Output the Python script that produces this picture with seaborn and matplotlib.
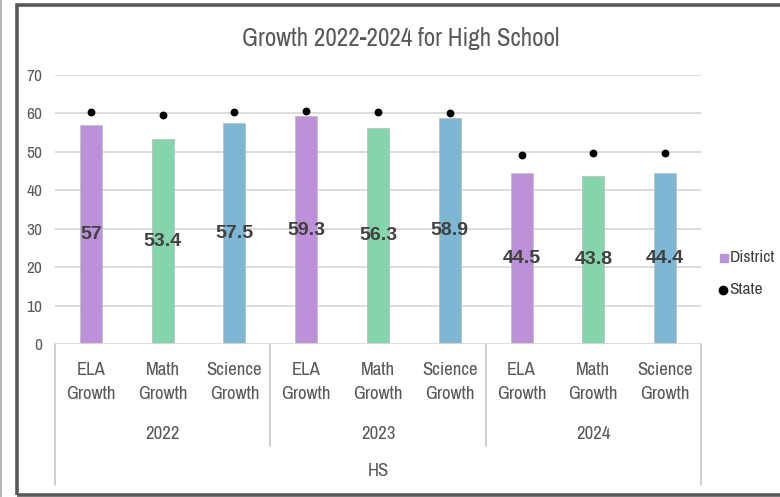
import matplotlib
matplotlib.use("Agg")
import matplotlib.pyplot as plt
import matplotlib.font_manager as fm
from matplotlib.lines import Line2D
from matplotlib.patches import Rectangle
import seaborn as sns
import pandas as pd

# ---- data ----
years = ["2022", "2022", "2022", "2023", "2023", "2023", "2024", "2024", "2024"]
subjects = ["ELA\nGrowth", "Math\nGrowth", "Science\nGrowth"] * 3
district = [57, 53.4, 57.5, 59.3, 56.3, 58.9, 44.5, 43.8, 44.4]
state = [60.5, 59.7, 60.4, 60.6, 60.5, 60.2, 49.3, 49.6, 49.6]
level = "HS"
title = "Growth 2022-2024 for High School"

bar_colors = ["#BD91DA", "#84D5AB", "#7EB7D4"] * 3
keys = [f"{y} {s}" for y, s in zip(years, subjects)]
df = pd.DataFrame({"key": keys, "year": years, "subject": subjects,
                   "District": district, "State": state})

sns.set_theme(style="white")
names = {f.name for f in fm.fontManager.ttflist}
candidates = ["Arial Narrow", "Liberation Sans Narrow", "Archivo Narrow",
              "PT Sans Narrow", "Roboto Condensed", "Fira Sans Condensed",
              "IBM Plex Sans Condensed", "Open Sans Condensed", "Pragati Narrow"]
narrow = next((c for c in candidates if c in names), "DejaVu Sans")
plt.rcParams["font.family"] = [narrow, "DejaVu Sans"]
plain = "Liberation Sans" if "Liberation Sans" in names else "DejaVu Sans"

fig = plt.figure(figsize=(7.8, 4.97), dpi=100)
W, H = 780, 497
ax = fig.add_axes([55 / W, 1 - 344 / H, (701 - 55) / W, (344 - 75) / H])

sns.barplot(data=df, x="key", y="District", hue="key", palette=bar_colors,
            order=keys, hue_order=keys, legend=False, width=0.307,
            saturation=1, edgecolor="#BFBFBF", linewidth=0.6, ax=ax, zorder=3)
sns.scatterplot(data=df, x="key", y="State", color="black", s=32,
                edgecolor="black", linewidth=0, ax=ax, zorder=4)

ax.set_ylim(0, 70)
ax.set_xlim(-0.5, len(keys) - 0.5)
ax.set_yticks(range(0, 71, 10))
ax.set_xticks([])
ax.set_xlabel("")
ax.set_ylabel("")
ax.tick_params(axis="y", length=0, labelsize=12.5, labelcolor="#595959", pad=9)
for sp in ax.spines.values():
    sp.set_visible(False)
for v in range(10, 71, 10):
    ax.axhline(v, color="#D9D9D9", lw=1.3, zorder=1)
ax.axhline(0, color="#D9D9D9", lw=1.3, zorder=5)

# value labels centred in each bar
for i, v in enumerate(district):
    ax.text(i, v / 2, f"{v:g}", ha="center", va="center", fontsize=14,
            fontweight="bold", color="#404040", family=plain, zorder=6)

# multi-level category axis
tx = ax.get_xaxis_transform()
for i, s in enumerate(subjects):
    ax.text(i, -0.143, s, transform=tx, ha="center", va="center", fontsize=13.5,
            fontweight="medium", color="#595959", linespacing=1.62)
groups = []
for i, y in enumerate(years):
    if not groups or groups[-1][0] != y:
        groups.append([y, i, i])
    else:
        groups[-1][2] = i
for y, a, b in groups:
    ax.text((a + b) / 2, -0.335, y, transform=tx, ha="center", va="center",
            fontsize=13.5, fontweight="medium", color="#595959")
ax.text((len(keys) - 1) / 2, -0.472, level, transform=tx, ha="center",
        va="center", fontsize=13.5, fontweight="medium", color="#595959")

sep_kw = dict(transform=tx, color="#C8C8C8", lw=1.2, clip_on=False)
for y, a, b in groups[1:]:
    ax.add_line(Line2D([a - 0.5, a - 0.5], [0, -0.379], **sep_kw))
for xe in (-0.5, len(keys) - 0.5):
    ax.add_line(Line2D([xe, xe], [0, -0.524], **sep_kw))

fig.text(0.514, 1 - 38 / H, title, ha="center", va="center", fontsize=18,
         fontweight="medium", color="#595959")

# legend
fig.add_artist(Line2D([724 / W], [1 - 258 / H], marker="s", markersize=6,
                      color="#BD91DA", lw=0))
fig.text(730 / W, 1 - 258 / H, "District", ha="left", va="center",
         fontsize=12.5, color="#404040")
fig.add_artist(Line2D([723 / W], [1 - 290 / H], marker="o", markersize=6,
                      color="black", lw=0))
fig.text(729 / W, 1 - 290 / H, "State", ha="left", va="center",
         fontsize=12.5, color="#404040")

# chart frame
fig.add_artist(Rectangle((16.5 / W, 1 - 494.5 / H), 800 / W, (494.5 - 4.5) / H,
                         transform=fig.transFigure, fill=False,
                         edgecolor="#595959", lw=2.6))
fig.add_artist(Line2D([0.8 / W, 0.8 / W], [0, 1], color="#A6A6A6", lw=1.2))

fig.savefig("out.png", dpi=100)
